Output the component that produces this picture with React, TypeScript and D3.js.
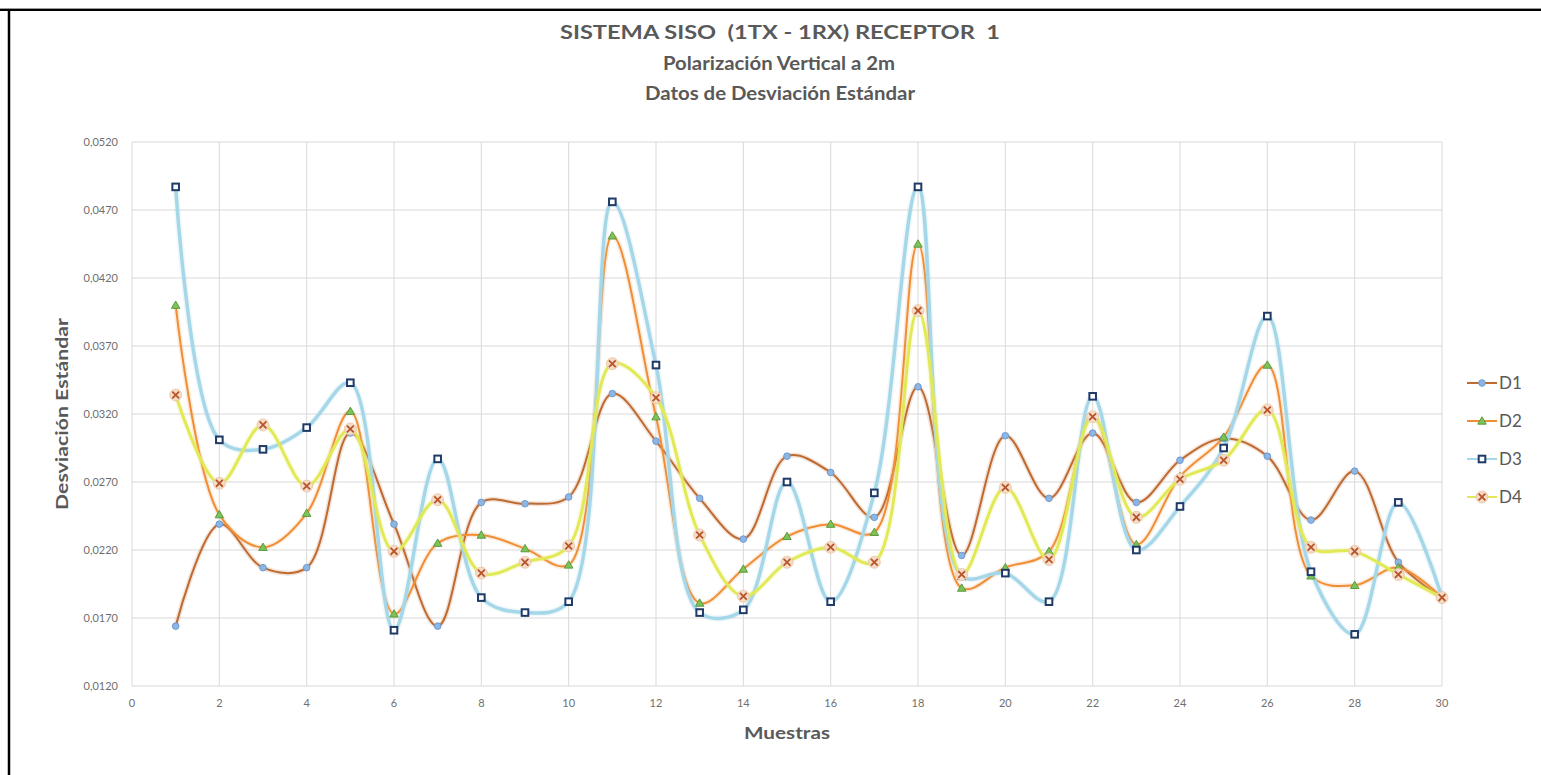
import React from "react";
import * as d3 from "d3";

const samples = Array.from({ length: 30 }, (_, i) => i + 1);
const xTicks = [0, 2, 4, 6, 8, 10, 12, 14, 16, 18, 20, 22, 24, 26, 28, 30];
const yTicks = [0.012, 0.017, 0.022, 0.027, 0.032, 0.037, 0.042, 0.047, 0.052];
const yTickLabels = ["0,0120", "0,0170", "0,0220", "0,0270", "0,0320", "0,0370", "0,0420", "0,0470", "0,0520"];

const D1 = [0.0164, 0.0239, 0.0207, 0.0207, 0.0306, 0.0239, 0.0164, 0.0255, 0.0254, 0.0259,
  0.0335, 0.0300, 0.0258, 0.0228, 0.0289, 0.0277, 0.0244, 0.0340, 0.0216, 0.0304,
  0.0258, 0.0306, 0.0255, 0.0286, 0.0302, 0.0289, 0.0242, 0.0278, 0.0211, 0.0185];
const D2 = [0.0400, 0.0246, 0.0222, 0.0247, 0.0322, 0.0173, 0.0225, 0.0231, 0.0221, 0.0209,
  0.0451, 0.0318, 0.0181, 0.0206, 0.0230, 0.0239, 0.0233, 0.0445, 0.0192, 0.0207,
  0.0219, 0.0319, 0.0224, 0.0274, 0.0303, 0.0356, 0.0201, 0.0194, 0.0207, 0.0185];
const D3 = [0.0487, 0.0301, 0.0294, 0.0310, 0.0343, 0.0161, 0.0287, 0.0185, 0.0174, 0.0182,
  0.0476, 0.0356, 0.0174, 0.0176, 0.0270, 0.0182, 0.0262, 0.0487, 0.0201, 0.0203,
  0.0182, 0.0333, 0.0220, 0.0252, 0.0295, 0.0392, 0.0204, 0.0158, 0.0255, 0.0185];
const D4 = [0.0334, 0.0269, 0.0312, 0.0267, 0.0309, 0.0219, 0.0257, 0.0203, 0.0211, 0.0223,
  0.0357, 0.0332, 0.0231, 0.0186, 0.0211, 0.0222, 0.0211, 0.0396, 0.0202, 0.0266,
  0.0213, 0.0318, 0.0244, 0.0272, 0.0286, 0.0323, 0.0222, 0.0219, 0.0202, 0.0185];

const seriesNames = ["D1", "D2", "D3", "D4"];
const seriesValues = [D1, D2, D3, D4];

const lineColors = ["#bf6a30", "#f08e36", "#a6d7e8", "#e2e957"];
const lineWidths = [2, 2, 3.5, 3];

const TEXT = "#595959";
const FONT = "Lato, 'Open Sans', sans-serif";

function Marker({ kind, x, y }: { kind: number; x: number; y: number }) {
  if (kind === 0) {
    return <circle cx={x} cy={y} r={3.3} fill="#8db6e3" stroke="#6d9bd1" strokeWidth={1} />;
  }
  if (kind === 1) {
    const s = 4.2;
    return (
      <path
        d={`M${x},${y - s}L${x + s},${y + s * 0.75}L${x - s},${y + s * 0.75}Z`}
        fill="#7cc35a"
        stroke="#5b9b3d"
        strokeWidth={1}
      />
    );
  }
  if (kind === 2) {
    return <rect x={x - 3.3} y={y - 3.3} width={6.6} height={6.6} fill="#ffffff" stroke="#1f3a66" strokeWidth={2} />;
  }
  const s = 3.4;
  return (
    <g>
      <circle cx={x} cy={y} r={6} fill="#f5dcc6" stroke="#e9c3a3" strokeWidth={0.8} />
      <path d={`M${x - s},${y - s}L${x + s},${y + s}M${x - s},${y + s}L${x + s},${y - s}`} stroke="#b8542a" strokeWidth={1.8} />
    </g>
  );
}

export default function App() {
  const W = 1541;
  const H = 775;
  const left = 132;
  const right = 1442;
  const top = 142;
  const bottom = 686;

  const x = d3.scaleLinear().domain([0, 30]).range([left, right]);
  const y = d3.scaleLinear().domain([0.012, 0.052]).range([bottom, top]);

  const line = d3
    .line<number>()
    .x((_, i) => x(samples[i]))
    .y((d) => y(d))
    .curve(d3.curveCatmullRom.alpha(0.5));

  return (
    <svg width={W} height={H} style={{ position: "absolute", left: 0, top: 0, background: "#fff" }}>
      <rect x={0} y={0} width={W} height={H} fill="#ffffff" />
      {/* frame */}
      <line x1={0} x2={W} y1={8.5} y2={8.5} stroke="#9a9a9a" strokeWidth={1} />
      <line x1={0} x2={W} y1={10} y2={10} stroke="#000" strokeWidth={2} />
      <line x1={9} x2={9} y1={9} y2={H} stroke="#000" strokeWidth={2.5} />

      {/* titles */}
      <g fontFamily={FONT} fontWeight="bold" fill={TEXT} textAnchor="middle">
        <text x={780} y={39} fontSize={18} textLength={440} lengthAdjust="spacingAndGlyphs" style={{ whiteSpace: "pre" }}>
          {"SISTEMA SISO  (1TX - 1RX) RECEPTOR  1"}
        </text>
        <text x={779} y={70} fontSize={18} textLength={232} lengthAdjust="spacingAndGlyphs">
          Polarización Vertical a 2m
        </text>
        <text x={780} y={100} fontSize={18} textLength={270} lengthAdjust="spacingAndGlyphs">
          Datos de Desviación Estándar
        </text>
        <text x={787} y={739} fontSize={17} textLength={86} lengthAdjust="spacingAndGlyphs">
          Muestras
        </text>
        <text
          transform={`translate(68,414) rotate(-90)`}
          fontSize={17}
          textLength={192}
          lengthAdjust="spacingAndGlyphs"
        >
          Desviación Estándar
        </text>
      </g>

      {/* grid */}
      <g stroke="#d9d9d9" strokeWidth={1}>
        {yTicks.map((t) => (
          <line key={"h" + t} x1={left} x2={right} y1={y(t)} y2={y(t)} />
        ))}
        {xTicks.map((t) => (
          <line key={"v" + t} x1={x(t)} x2={x(t)} y1={top} y2={bottom} />
        ))}
      </g>

      {/* tick labels */}
      <g fontFamily={FONT} fontSize={11} fill="#6f6f6f">
        {yTicks.map((t, i) => (
          <text key={"yl" + t} x={118} y={y(t) + 4} textAnchor="end">
            {yTickLabels[i]}
          </text>
        ))}
        {xTicks.map((t) => (
          <text key={"xl" + t} x={x(t)} y={707} textAnchor="middle">
            {t}
          </text>
        ))}
      </g>

      {/* series lines */}
      {seriesValues.map((vals, si) => (
        <g key={"s" + si}>
          <path d={line(vals) || ""} fill="none" stroke={lineColors[si]} strokeWidth={lineWidths[si] + 3} strokeOpacity={0.18} />
          <path d={line(vals) || ""} fill="none" stroke={lineColors[si]} strokeWidth={lineWidths[si]} />
        </g>
      ))}

      {/* markers */}
      {seriesValues.map((vals, si) => (
        <g key={"m" + si}>
          {vals.map((v, i) => (
            <Marker key={i} kind={si} x={x(samples[i])} y={y(v)} />
          ))}
        </g>
      ))}

      {/* legend */}
      <g fontFamily={FONT} fontSize={17} fill={TEXT}>
        {seriesNames.map((n, i) => {
          const ly = 383 + i * 38;
          return (
            <g key={n}>
              <line x1={1467} x2={1497} y1={ly} y2={ly} stroke={lineColors[i]} strokeWidth={Math.min(lineWidths[i], 2)} />
              <Marker kind={i} x={1482} y={ly} />
              <text x={1499} y={ly + 6}>{n}</text>
            </g>
          );
        })}
      </g>
    </svg>
  );
}
